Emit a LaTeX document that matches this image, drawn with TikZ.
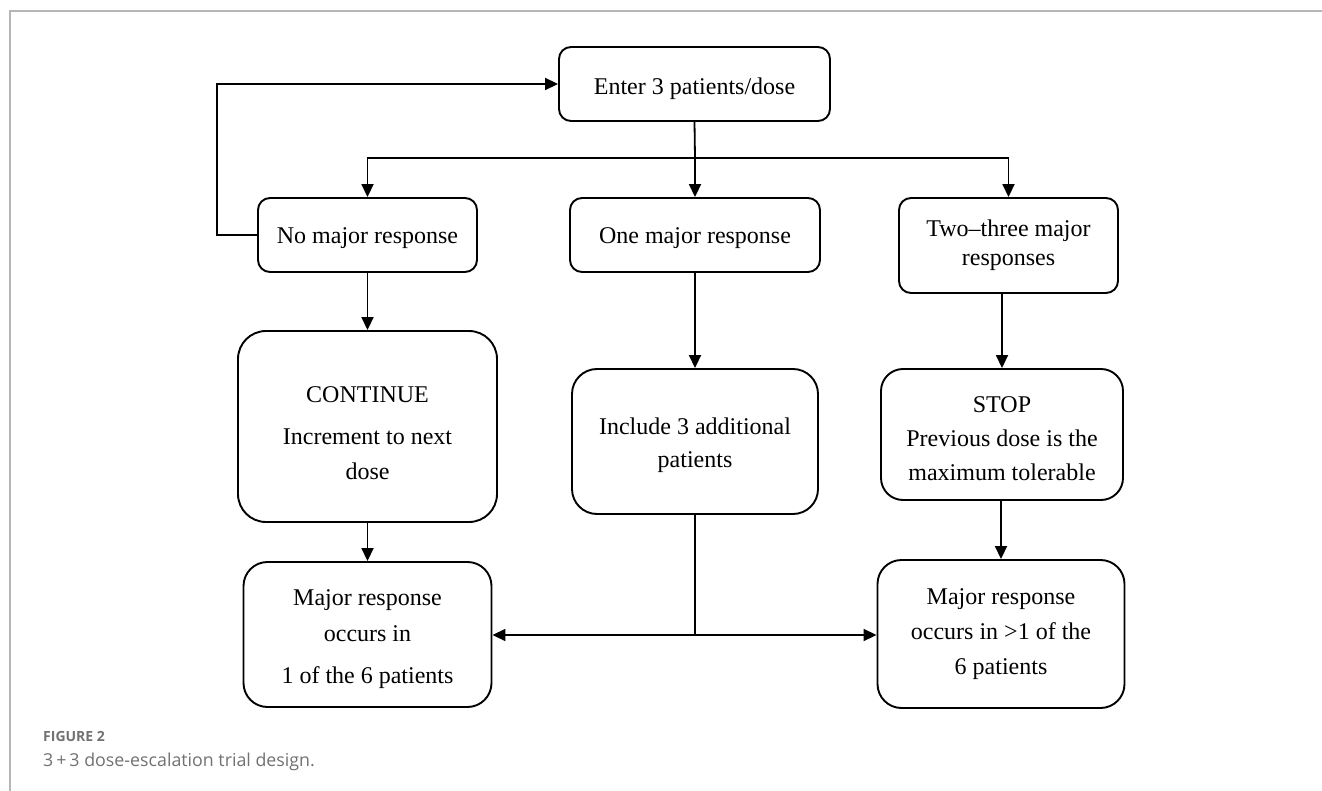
\documentclass[tikz,border=0pt]{standalone}
\usepackage{fontspec}
\setmainfont{Liberation Serif}
\newfontfamily\capfont{Open Sans}
\usetikzlibrary{arrows.meta}
\definecolor{framegray}{RGB}{182,182,182}
\definecolor{capgray}{RGB}{112,113,115}
\newcommand\myraise[1]{\rule{0pt}{#1}}
\begin{document}
\begin{tikzpicture}[x=1pt,y=-1pt,
  box/.style={draw=black, line width=1.9pt, rounded corners=12pt, align=center, inner sep=0pt,
              font=\fontsize{24}{35}\selectfont},
  conn/.style={line width=1.8pt, -{Triangle[length=13pt,width=12pt]}},
  plain/.style={line width=1.8pt},
  caplabel/.style={anchor=base west, inner sep=0pt, text=capgray}]
\useasboundingbox (0,0) rectangle (1322,791);
\draw[line width=1.5pt, framegray] (1322,11) -- (10,11) -- (10,791);

% boxes
\node[box, minimum width=271pt, minimum height=74pt] (enter) at (694.5,84) {\myraise{26.5pt}Enter 3 patients/dose};
\node[box, minimum width=219pt, minimum height=74pt] (nomaj) at (367.5,235) {\myraise{22.5pt}No major response};
\node[box, minimum width=250pt, minimum height=74pt] (onemaj) at (695,235) {\myraise{22.5pt}One major response};
\node[box, minimum width=219pt, minimum height=95pt, font=\fontsize{24}{29}\selectfont] (two) at (1008.5,245.5) {Two–three major\\responses};
\node[box, minimum width=259pt, minimum height=191pt, rounded corners=28pt] (cont) at (367.5,426.5) {\myraise{29pt}CONTINUE\\[7pt]Increment to next\\dose};
\node[box, minimum width=246pt, minimum height=145pt, rounded corners=25pt, font=\fontsize{24}{33}\selectfont] (incl) at (695,441.5) {\myraise{23.5pt}Include 3 additional\\patients};
\node[box, minimum width=242pt, minimum height=131pt, rounded corners=22pt, font=\fontsize{24}{34}\selectfont] (stop) at (1002,434.5) {\myraise{25pt}STOP\\Previous dose is the\\maximum tolerable};
\node[box, minimum width=248pt, minimum height=145pt, rounded corners=24pt, font=\fontsize{24}{36}\selectfont] (leftbot) at (367.5,634.5) {\myraise{24.5pt}Major response\\occurs in\\[6pt]1 of the 6 patients};
\node[box, minimum width=247pt, minimum height=148pt, rounded corners=24pt, font=\fontsize{24}{35}\selectfont] (rightbot) at (1001,634) {Major response\\occurs in >1 of the\\6 patients};

% connectors
\coordinate (bus) at (695,158);
\draw[plain] (enter.south) -- (bus);
\draw[conn] (bus) -- (onemaj.north);
\draw[conn] (bus) -| (nomaj.north);
\draw[conn] (bus) -| (two.north);
\draw[conn] (nomaj.west) -- ++(-40,0) |- (enter.west);
\draw[conn] (nomaj.south) -- (cont.north);
\draw[conn] (onemaj.south) -- (incl.north);
\draw[conn] (stop.north |- two.south) -- (stop.north);
\draw[conn] (cont.south) -- (leftbot.north);
\draw[conn] (stop.south -| rightbot.north) -- (rightbot.north);
\coordinate (junc) at (695,635);
\draw[line width=1.4pt] (incl.south) -- (junc);
\draw[conn] (junc) -- (leftbot.east |- junc);
\draw[conn] (junc) -- (rightbot.west |- junc);

% caption
\node[caplabel, font=\capfont\bfseries\fontsize{14}{16}\selectfont] (figlabel) at (43,741.7) {FIGURE 2};
\node[caplabel, font=\capfont\fontsize{17.8}{20}\selectfont] (figcap) at (43,766) {3\,+\,3 dose-escalation trial design.};
\end{tikzpicture}
\end{document}
